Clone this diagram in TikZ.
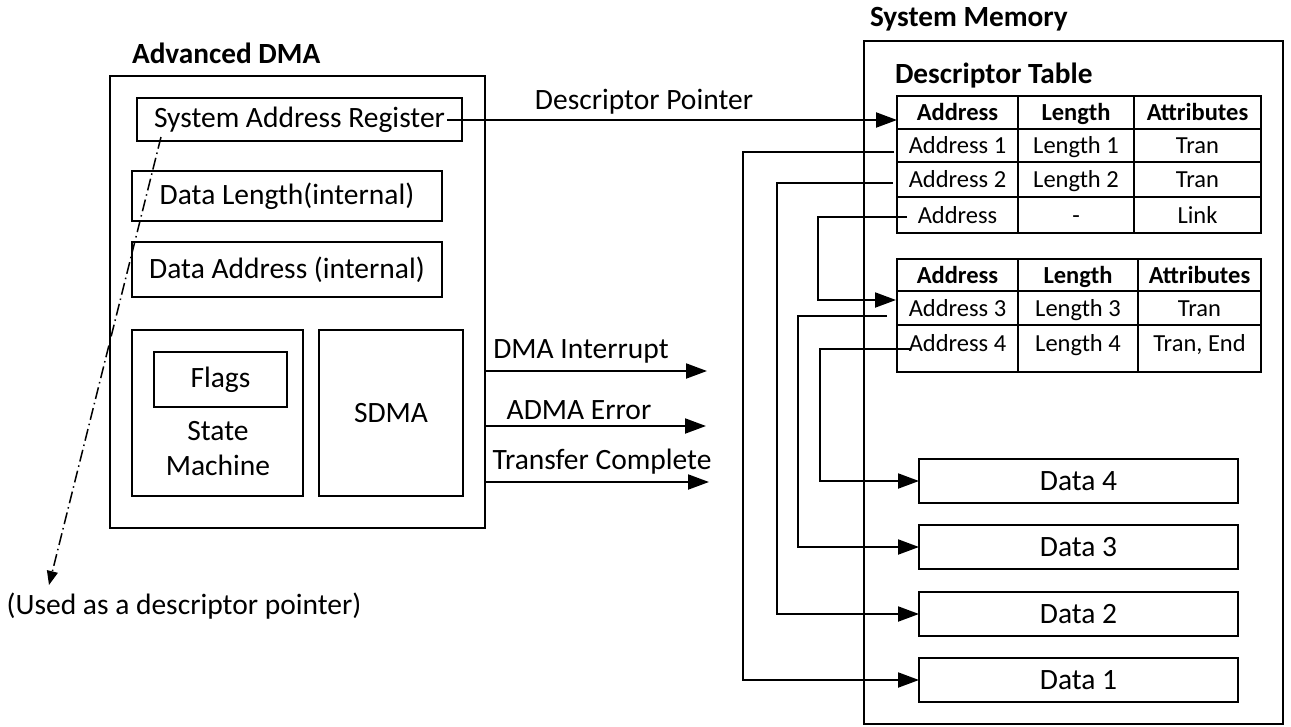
\documentclass[tikz,border=0pt]{standalone}
\usepackage{fontspec}
\setmainfont{Carlito}
\usetikzlibrary{arrows.meta,calc}
\begin{document}
\begin{tikzpicture}[x=1pt,y=-1pt,
  every node/.style={inner sep=0pt, outer sep=0pt},
  mainfont/.style={font=\fontsize{29.5}{35}\selectfont},
  titlefont/.style={font=\fontsize{29.3}{33}\selectfont\bfseries},
  tabfont/.style={font=\fontsize{24.5}{27}\selectfont},
  tabhead/.style={font=\fontsize{24.5}{27}\selectfont\bfseries},
  blk/.style={draw, line width=2pt, anchor=north west, mainfont},
  outer/.style={draw, line width=2.5pt, anchor=north west},
  cell/.style={draw, line width=2.5pt, anchor=north west, tabfont, text height=18pt, text depth=2pt},
  hcell/.style={cell, tabhead},
  conn/.style={line width=2pt},
  arr/.style={conn, -{Triangle[length=21pt,width=15pt]}},
]
\useasboundingbox (0,0) rectangle (1291,726);

% ---------- Advanced DMA ----------
\node[titlefont, anchor=west] (admatitle) at (132,53) {Advanced DMA};
\node[outer, minimum width=375pt, minimum height=452pt] (adma) at (110,76) {};
\node[blk, minimum width=325pt, minimum height=43pt] (sar) at (137,98) {System Address Register};
\node[blk, minimum width=310pt, minimum height=50pt] (dlen) at (132,171) {Data Length(internal)};
\node[blk, minimum width=310pt, minimum height=55pt] (daddr) at (132,242) {Data Address (internal)};
\node[blk, minimum width=171pt, minimum height=166pt] (sm) at (132,330) {};
\node[blk, minimum width=133pt, minimum height=55pt] (flags) at (154,352) {Flags};
\node[mainfont, align=center] (smtext) at (218,449) {State\\Machine};
\node[blk, minimum width=144pt, minimum height=166pt] (sdma) at (319,330) {SDMA};

% status outputs
\coordinate (intend) at (707,371);
\coordinate (errend) at (706,426);
\coordinate (tcend) at (709,482);
\draw[arr] (adma.east |- intend) -- (intend);
\draw[arr] (adma.east |- errend) -- (errend);
\draw[arr] (adma.east |- tcend) -- (tcend);
\node[mainfont] (intlbl) at (581,351) {DMA Interrupt};
\node[mainfont] (errlbl) at (579,410) {ADMA Error};
\node[mainfont] (tclbl) at (602,462) {Transfer Complete};

% descriptor pointer dash-dot
\coordinate (ddstart) at (161,137);
\coordinate (ddend) at (49,585);
\draw[line width=1.5pt, dash pattern=on 12pt off 4pt on 1.5pt off 4pt, -{Triangle[length=14pt,width=11pt]}] (ddstart) -- (ddend);
\node[mainfont] (usedlbl) at (184,606) {(Used as a descriptor pointer)};

% ---------- System Memory ----------
\node[titlefont, anchor=west] (smtitle) at (870,19) {System Memory};
\node[outer, minimum width=419pt, minimum height=683pt] (sysmem) at (864,41) {};
\node[titlefont, anchor=west] (dttitle) at (895,76) {Descriptor Table};

% table 1
\node[hcell, minimum width=121pt, minimum height=33pt] (t1h1) at (897,96) {Address};
\node[hcell, minimum width=116pt, minimum height=33pt] (t1h2) at (1018,96) {Length};
\node[hcell, minimum width=127pt, minimum height=33pt] (t1h3) at (1134,96) {Attributes};
\node[cell, minimum width=121pt, minimum height=33pt] (t1a1) at (897,129) {Address 1};
\node[cell, minimum width=116pt, minimum height=33pt] (t1l1) at (1018,129) {Length 1};
\node[cell, minimum width=127pt, minimum height=33pt] (t1x1) at (1134,129) {Tran};
\node[cell, minimum width=121pt, minimum height=35pt] (t1a2) at (897,162) {Address 2};
\node[cell, minimum width=116pt, minimum height=35pt] (t1l2) at (1018,162) {Length 2};
\node[cell, minimum width=127pt, minimum height=35pt] (t1x2) at (1134,162) {Tran};
\node[cell, minimum width=121pt, minimum height=36pt] (t1a3) at (897,197) {Address};
\node[cell, minimum width=116pt, minimum height=36pt] (t1l3) at (1018,197) {-};
\node[cell, minimum width=127pt, minimum height=36pt] (t1x3) at (1134,197) {Link};

% table 2
\node[hcell, minimum width=121pt, minimum height=32pt] (t2h1) at (897,259) {Address};
\node[hcell, minimum width=120pt, minimum height=32pt] (t2h2) at (1018,259) {Length};
\node[hcell, minimum width=123pt, minimum height=32pt] (t2h3) at (1138,259) {Attributes};
\node[cell, minimum width=121pt, minimum height=34pt] (t2a3) at (897,291) {Address 3};
\node[cell, minimum width=120pt, minimum height=34pt] (t2l3) at (1018,291) {Length 3};
\node[cell, minimum width=123pt, minimum height=34pt] (t2x3) at (1138,291) {Tran};
\node[cell, minimum width=121pt, minimum height=47pt, text depth=13pt] (t2a4) at (897,325) {Address 4};
\node[cell, minimum width=120pt, minimum height=47pt, text depth=13pt] (t2l4) at (1018,325) {Length 4};
\node[cell, minimum width=123pt, minimum height=47pt, text depth=13pt] (t2x4) at (1138,325) {Tran, End};

% data buffers
\node[blk, minimum width=319pt, minimum height=44pt] (d4) at (919,459) {Data 4};
\node[blk, minimum width=319pt, minimum height=44pt] (d3) at (919,525) {Data 3};
\node[blk, minimum width=319pt, minimum height=44pt] (d2) at (919,592) {Data 2};
\node[blk, minimum width=319pt, minimum height=44pt] (d1) at (919,658) {Data 1};

% descriptor pointer
\coordinate (dpstart) at (447,120);
\draw[arr] (dpstart) -- (t1h1.west |- dpstart);
\node[mainfont] (dplbl) at (644,102) {Descriptor Pointer};

% descriptor links
\coordinate (a1s) at (894,152);
\coordinate (a2s) at (893,183);
\coordinate (lks) at (907,217);
\coordinate (lke) at (896,300);
\coordinate (a3s) at (887,316);
\coordinate (a4s) at (910,349);
\draw[arr] (a1s) -- ++(-151,0) |- (d1.west);
\draw[arr] (a2s) -- ++(-116,0) |- (d2.west);
\draw[arr] (lks) -- ++(-89,0) |- (lke);
\draw[arr] (a3s) -- ++(-89,0) |- (d3.west);
\draw[arr] (a4s) -- ++(-90,0) |- (d4.west);
\end{tikzpicture}
\end{document}
